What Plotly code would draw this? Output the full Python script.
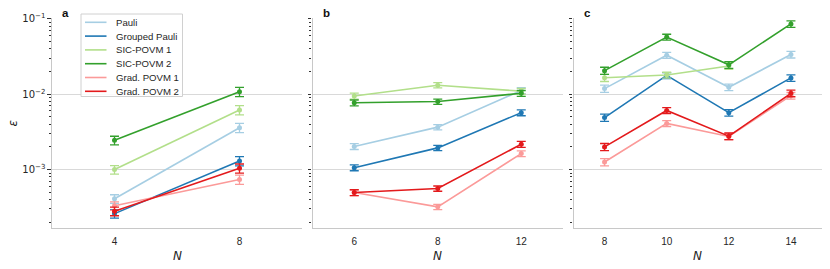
import plotly.graph_objects as go

# ---------------- data ----------------
N_a = ["4", "8"]
N_b = ["6", "8", "12"]
N_c = ["8", "10", "12", "14"]

series_names = ["Pauli", "Grouped Pauli", "SIC-POVM 1", "SIC-POVM 2", "Grad. POVM 1", "Grad. POVM 2"]
series_colors = ["#a6cee3", "#1f78b4", "#b2df8a", "#33a02c", "#fb9a99", "#e31a1c"]

pauli_a = [4.1e-4, 3.6e-3]
grouped_a = [2.6e-4, 1.3e-3]
sic1_a = [1.0e-3, 6.2e-3]
sic2_a = [2.45e-3, 1.08e-2]
grad1_a = [3.3e-4, 7.4e-4]
grad2_a = [2.8e-4, 1.04e-3]

pauli_b = [2.03e-3, 3.66e-3, 1.12e-2]
grouped_b = [1.06e-3, 1.94e-3, 5.7e-3]
sic1_b = [9.5e-3, 1.32e-2, 1.1e-2]
sic2_b = [7.7e-3, 8.0e-3, 1.03e-2]
grad1_b = [4.95e-4, 3.2e-4, 1.63e-3]
grad2_b = [4.95e-4, 5.6e-4, 2.17e-3]

pauli_c = [1.19e-2, 3.3e-2, 1.24e-2, 3.37e-2]
grouped_c = [4.9e-3, 1.78e-2, 5.7e-3, 1.65e-2]
sic1_c = [1.66e-2, 1.8e-2, 2.38e-2, None]
sic2_c = [2.06e-2, 5.75e-2, 2.46e-2, 8.6e-2]
grad1_c = [1.26e-3, 4.1e-3, 2.75e-3, 9.6e-3]
grad2_c = [2.0e-3, 6.1e-3, 2.78e-3, 1.03e-2]

# relative (1-sigma) error of each point, per panel
rel_err_a = [0.13, 0.14]
rel_err_b = [0.09, 0.08, 0.09]
rel_err_c = [0.11, 0.09, 0.10, 0.10]

panel_labels = ["a", "b", "c"]
y_tick_vals = [1e-3, 1e-2, 1e-1]
y_tick_text = ["10<sup>−3</sup>", "10<sup>−2</sup>", "10<sup>−1</sup>"]

panels = [
    (N_a, [pauli_a, grouped_a, sic1_a, sic2_a, grad1_a, grad2_a], rel_err_a),
    (N_b, [pauli_b, grouped_b, sic1_b, sic2_b, grad1_b, grad2_b], rel_err_b),
    (N_c, [pauli_c, grouped_c, sic1_c, sic2_c, grad1_c, grad2_c], rel_err_c),
]

# ---------------- figure geometry ----------------
W, H = 830, 269
ml, mr, mt, mb = 52, 8, 18, 41
pw = W - ml - mr
ph = H - mt - mb
domains = [(0, 250), (260.5, 511), (521.5, 770)]


def px(X):
    return (X - ml) / pw


def py(Y):
    return 1 - (Y - mt) / ph


FONT = "Liberation Sans, Arial, sans-serif"
TXT = "#262626"

fig = go.Figure()
minor_vals = [m * 10.0 ** e for e in (-4, -3, -2) for m in range(2, 10)]

for i, (xs, ys_list, rel) in enumerate(panels):
    xa = "x" if i == 0 else f"x{i+1}"
    ya = "y" if i == 0 else f"y{i+1}"
    for name, col, ys in zip(series_names, series_colors, ys_list):
        errs = [None if v is None else v * r for v, r in zip(ys, rel)]
        fig.add_trace(go.Scatter(
            x=xs, y=ys, mode="lines+markers", name=name,
            line=dict(color=col, width=1.6),
            marker=dict(color=col, size=5),
            error_y=dict(type="data", array=errs, visible=True,
                         color=col, thickness=1.3, width=4.5),
            showlegend=False, xaxis=xa, yaxis=ya,
        ))
    d0, d1 = domains[i]
    xax = dict(
        domain=[d0 / pw, d1 / pw], type="category",
        range=[-0.5, len(xs) - 0.5], automargin=False,
        showgrid=False, zeroline=False,
        showline=True, linecolor="#c8c8c8", linewidth=1.2,
        ticks="outside", ticklen=4, tickcolor="rgba(0,0,0,0)",
        tickfont=dict(family=FONT, size=10, color=TXT),
        anchor=ya,
    )
    yax = dict(
        type="log", range=[-3.776, -0.987], automargin=False,
        showgrid=True, gridcolor="#d9d9d9", gridwidth=1,
        zeroline=False, showline=True, linecolor="#c8c8c8", linewidth=1.2,
        tickmode="array", tickvals=y_tick_vals,
        ticks="outside", ticklen=3.5, tickwidth=1, tickcolor="#333333",
        minor=dict(tickmode="array", tickvals=minor_vals, ticks="outside",
                   ticklen=2, tickwidth=0.8, tickcolor="#333333", showgrid=False),
        tickfont=dict(family="DejaVu Sans, sans-serif", size=10, color=TXT),
        anchor=xa,
    )
    if i == 0:
        yax["ticktext"] = y_tick_text
    else:
        yax["showticklabels"] = False
    fig.layout["xaxis" if i == 0 else f"xaxis{i+1}"] = xax
    fig.layout["yaxis" if i == 0 else f"yaxis{i+1}"] = yax

    # panel letter
    fig.add_annotation(
        text=f"<b>{panel_labels[i]}</b>", xref="paper", yref="paper",
        x=px(ml + d0 + 8), y=py(12.5), xanchor="left", yanchor="middle",
        showarrow=False, font=dict(family=FONT, size=11.5, color="#111111"),
    )
    # x axis title
    fig.add_annotation(
        text="<i>N</i>", xref="paper", yref="paper",
        x=(d0 + d1) / 2 / pw, y=py(255.5), xanchor="center", yanchor="middle",
        showarrow=False, font=dict(family="DejaVu Sans, sans-serif", size=12, color=TXT),
    )

# y axis title
fig.add_annotation(
    text="<i>ε</i>", xref="paper", yref="paper", x=px(12.5), y=py(123),
    xanchor="center", yanchor="middle", textangle=-90, showarrow=False,
    font=dict(family="DejaVu Sans, sans-serif", size=12, color=TXT),
)

# legend (drawn in panel a)
leg_x0, leg_x1, leg_y0, leg_y1 = 81, 182.5, 14, 96.5
fig.add_shape(type="rect", xref="paper", yref="paper",
              x0=px(leg_x0), x1=px(leg_x1), y0=py(leg_y1), y1=py(leg_y0),
              line=dict(color="#d0d0d0", width=1), fillcolor="rgba(255,255,255,0.85)",
              layer="above")
for k, (name, col) in enumerate(zip(series_names, series_colors)):
    yy = 22.3 + 13.8 * k
    fig.add_shape(type="line", xref="paper", yref="paper",
                  x0=px(85), x1=px(106.5), y0=py(yy), y1=py(yy),
                  line=dict(color=col, width=1.6), layer="above")
    fig.add_annotation(text=name, xref="paper", yref="paper",
                       x=px(113.5), y=py(yy), xanchor="left", yanchor="middle",
                       showarrow=False, font=dict(family=FONT, size=9.6, color=TXT))

fig.update_layout(
    width=W, height=H,
    margin=dict(l=ml, r=mr, t=mt, b=mb, autoexpand=False),
    paper_bgcolor="white", plot_bgcolor="white",
    showlegend=False,
)

fig.write_html("out.html", config={"displayModeBar": False},
               post_script="document.body.style.margin='0px';")
